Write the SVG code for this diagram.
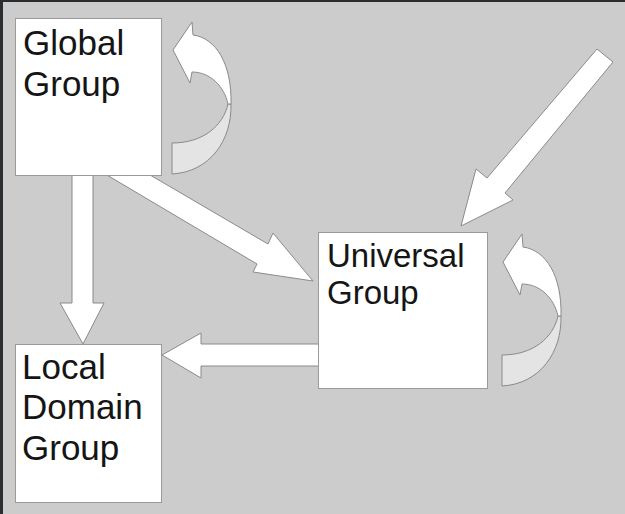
<svg xmlns="http://www.w3.org/2000/svg" xmlns:xlink="http://www.w3.org/1999/xlink" width="625" height="514" viewBox="0 0 625 514">
<style>
.node{fill:#ffffff;stroke:#9a9a9a;stroke-width:1}
.arrow{fill:#ffffff;stroke:#8a8a8a;stroke-width:1;stroke-linejoin:miter}
.back{fill:#e4e4e4;stroke:#8a8a8a;stroke-width:1}
.lbl{font-family:"Liberation Sans",Arial,sans-serif;font-size:35px;fill:#151515}
.sm{font-size:33px}
</style>
<defs>
<g id="loop">
<path class="back" d="M228,104 C223,126 203,143 172,143 L172,174 C210,172 232,140 231,104 Z"/>
<path class="arrow" d="M228,104 C224,86 210,72 192,72 L190,83 L173,50 L192,22 L193,35 C216,38 232,64 231,104 Z"/>
</g>
</defs>
<rect x="0" y="0" width="625" height="514" fill="#cccccc"/>
<rect x="0" y="0" width="625" height="2" fill="#2b2e31"/>
<rect x="0" y="0" width="3" height="514" fill="#2b2e31"/>
<g id="connectors">
<polygon class="arrow" points="72,170 93,170 93,303 104,303 83,344 60,303 72,303"/>
<polygon class="arrow" points="133,165 268,244 273,233 313,281 253,272 257,264 90,165"/>
<polygon class="arrow" points="325,344 201,344 201,333 162,355 201,378 201,366 325,366"/>
<polygon class="arrow" points="597,49 613,62 505,193 513,200 461,226 476,169 487,178"/>
<use xlink:href="#loop"/>
<use xlink:href="#loop" transform="translate(330,212)"/>
</g>
<g id="global-group">
<rect class="node" x="15.5" y="18.5" width="146" height="157"/>
<text class="lbl" x="23" y="55">Global</text>
<text class="lbl" x="23" y="96">Group</text>
</g>
<g id="universal-group">
<rect class="node" x="318.5" y="232.5" width="169" height="156"/>
<text class="lbl sm" x="327" y="267">Universal</text>
<text class="lbl sm" x="327" y="304">Group</text>
</g>
<g id="local-domain-group">
<rect class="node" x="15.5" y="344.5" width="146" height="158"/>
<text class="lbl" x="22" y="379">Local</text>
<text class="lbl" x="22" y="419">Domain</text>
<text class="lbl" x="22" y="460">Group</text>
</g>
</svg>
